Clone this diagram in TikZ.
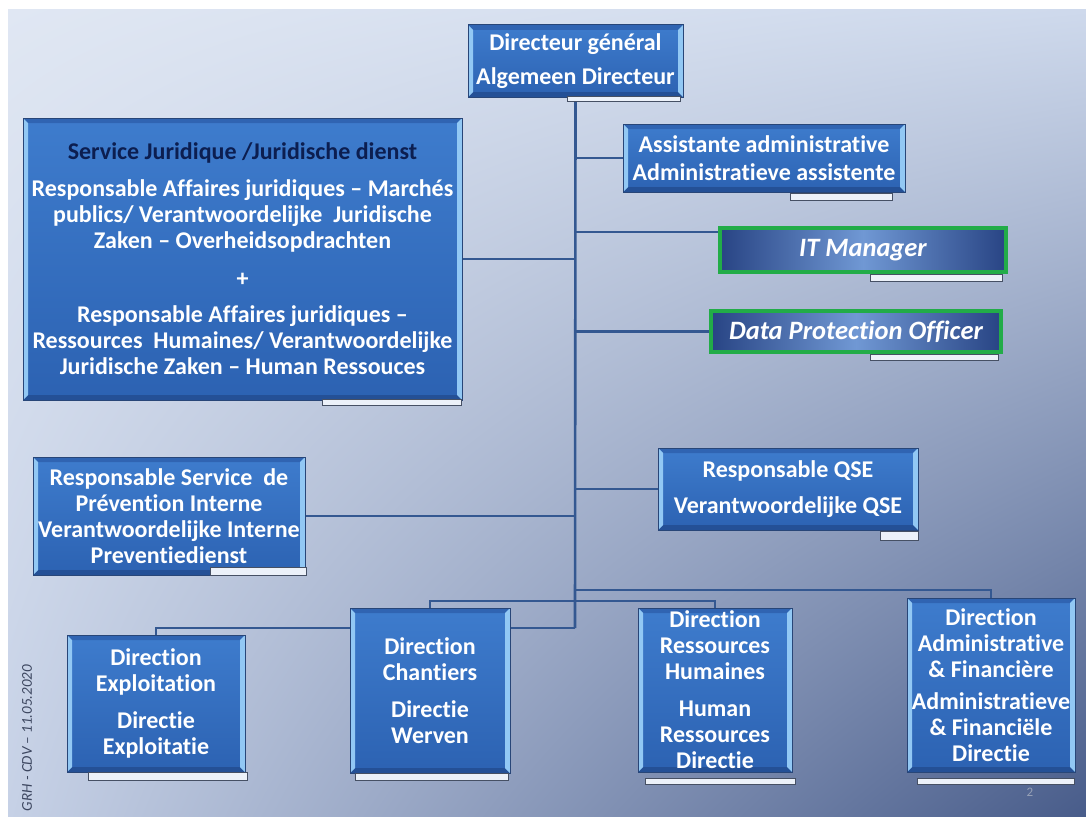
\documentclass[tikz,border=0pt]{standalone}
\usepackage{fontspec}
\setmainfont{Carlito}[Ligatures={NoCommon,NoContextual}]
\usetikzlibrary{calc,shadings}
\pgfdeclarelayer{bg}
\pgfsetlayers{bg,main}
\definecolor{bgUL}{RGB}{224,231,243}
\definecolor{bgUR}{RGB}{206,217,236}
\definecolor{bgLL}{RGB}{198,209,230}
\definecolor{bgLR}{RGB}{72,92,138}
\definecolor{connC}{RGB}{52,88,145}
\definecolor{edgeC}{RGB}{40,70,120}
\definecolor{boxT}{RGB}{62,124,205}
\definecolor{boxB}{RGB}{44,98,178}
\definecolor{bevS}{RGB}{146,200,244}
\definecolor{bevT}{RGB}{48,100,178}
\definecolor{bevB}{RGB}{36,80,150}
\definecolor{navyT}{RGB}{12,30,80}
\definecolor{tabF}{RGB}{236,241,249}
\definecolor{tabD}{RGB}{70,80,100}
\definecolor{grnC}{RGB}{34,172,72}
\definecolor{itD}{RGB}{40,68,132}
\definecolor{itL}{RGB}{112,152,212}
\definecolor{sideC}{RGB}{60,70,95}
\definecolor{numC}{RGB}{150,160,182}
\tikzset{
  conn/.style={draw=connC, line width=2.6pt},
  bevels/.style={path picture={
    \fill[bevT] (path picture bounding box.north west) -- ([shift={(#1,-#1)}]path picture bounding box.north west) -- ([shift={(-#1,-#1)}]path picture bounding box.north east) -- (path picture bounding box.north east) -- cycle;
    \fill[bevB] (path picture bounding box.south west) -- ([shift={(#1,#1)}]path picture bounding box.south west) -- ([shift={(-#1,#1)}]path picture bounding box.south east) -- (path picture bounding box.south east) -- cycle;
    \fill[bevS] (path picture bounding box.north west) -- ([shift={(#1,-#1)}]path picture bounding box.north west) -- ([shift={(#1,#1)}]path picture bounding box.south west) -- (path picture bounding box.south west) -- cycle;
    \fill[bevS] (path picture bounding box.north east) -- ([shift={(-#1,-#1)}]path picture bounding box.north east) -- ([shift={(-#1,#1)}]path picture bounding box.south east) -- (path picture bounding box.south east) -- cycle;
  }},
  orgbox/.style={draw=edgeC, line width=1pt, top color=boxT, bottom color=boxB,
    bevels=5pt, text=white, align=center, inner sep=0pt,
    font=\bfseries\fontsize{24}{26}\selectfont},
  greenbox/.style={draw=grnC, line width=4pt, left color=itD, right color=itD, middle color=itL,
    text=white, align=center, inner sep=0pt,
    font=\bfseries\itshape\fontsize{26.5}{28}\selectfont},
  tabbox/.style={fill=tabF, draw=tabD, line width=1pt},
}
\begin{document}
\begin{tikzpicture}[x=1pt,y=-1pt]
\useasboundingbox (0,0) rectangle (1086,816);
\begin{pgfonlayer}{bg}
\fill[white] (0,0) rectangle (1086,816);
\shade[upper left=bgUL, upper right=bgUR, lower left=bgLL, lower right=bgLR] (8,10) rectangle (1086,816);
\end{pgfonlayer}

\path
 (575.5,61)   node[orgbox, minimum width=215pt, minimum height=72pt] (dg) {Directeur général\\[8pt]Algemeen Directeur}
 (242.5,259)  node[orgbox, minimum width=439pt, minimum height=282pt] (jur) {{\color{navyT}Service Juridique /Juridische dienst}\\[11pt]
   Responsable Affaires juridiques – Marchés\\
   publics/ Verantwoordelijke\ \ Juridische\\
   Zaken – Overheidsopdrachten\\[12pt]
   +\\[10pt]
   Responsable Affaires juridiques –\\
   Ressources\ \ Humaines/ Verantwoordelijke\\
   Juridische Zaken – Human Ressouces}
 (764,158)    node[orgbox, minimum width=282pt, minimum height=68pt] (assist) {Assistante administrative\\[2pt]Administratieve assistente}
 (863,250)    node[greenbox, minimum width=286pt, minimum height=44pt] (it) {IT Manager}
 (856,331.5)  node[greenbox, minimum width=290pt, minimum height=41pt] (dpo) {Data Protection Officer}
 (169,516)    node[orgbox, minimum width=272pt, minimum height=118pt] (prev) {Responsable Service\ \ de\\Prévention Interne\\Verantwoordelijke Interne\\Preventiedienst}
 (788,489)    node[orgbox, minimum width=260pt, minimum height=82pt] (qse) {Responsable QSE\\[10pt]Verantwoordelijke QSE}
 (156,703.5)  node[orgbox, minimum width=178pt, minimum height=137pt] (expl) {Direction\\Exploitation\\[11pt]Directie\\Exploitatie}
 (430,690.5)  node[orgbox, minimum width=160pt, minimum height=165pt] (chant) {Direction\\Chantiers\\[11pt]Directie\\Werven}
 (715,690)    node[orgbox, minimum width=154pt, minimum height=164pt] (drh) {Direction\\Ressources\\Humaines\\[11pt]Human\\Ressources\\Directie}
 (991,685)    node[orgbox, minimum width=168pt, minimum height=174pt] (daf) {Direction\\Administrative\\\& Financière\\[6pt]Administratieve\\\& Financiële\\Directie};

\begin{pgfonlayer}{bg}
\coordinate (tbot) at (575,628);
\draw[conn] (dg.south) -- (tbot);
\draw[conn] (assist.west) -- (assist.west -| dg.south);
\draw[conn] (jur.east) -- (jur.east -| dg.south);
\draw[conn] ([yshift=18pt]it.west) -- ([yshift=18pt]it.west -| dg.south);
\draw[conn] (dpo.west) -- (dpo.west -| dg.south);
\draw[conn] (qse.west) -- (qse.west -| dg.south);
\draw[conn] (prev.east) -- (prev.east -| dg.south);
\draw[conn] (tbot) -| (expl.north);
\draw[conn] (chant.north) |- (575,601) -| (drh.north);
\draw[conn] (575,590) -| (daf.north);
\end{pgfonlayer}

% tabs
\draw[tabbox] (567,96) rectangle (680,101);
\draw[tabbox] (322,399) rectangle (461,405);
\draw[tabbox] (790,193) rectangle (892,200);
\draw[tabbox] (870,274) rectangle (1002,281);
\draw[tabbox] (870,354) rectangle (998,360);
\draw[tabbox] (210,567) rectangle (306,575);
\draw[tabbox] (880,531) rectangle (918,540);
\draw[tabbox] (88,772) rectangle (247,780);
\draw[tabbox] (355,773) rectangle (508,780);
\draw[tabbox] (645,778) rectangle (795,784);
\draw[tabbox] (917,778) rectangle (1074,784);

\node[rotate=90, text=sideC, font=\itshape\fontsize{15}{17}\selectfont] (side) at (27,738) {GRH - CDV – 11.05.2020};
\node[text=numC, font=\fontsize{13}{15}\selectfont] (num) at (1030,792) {2};
\end{tikzpicture}
\end{document}
